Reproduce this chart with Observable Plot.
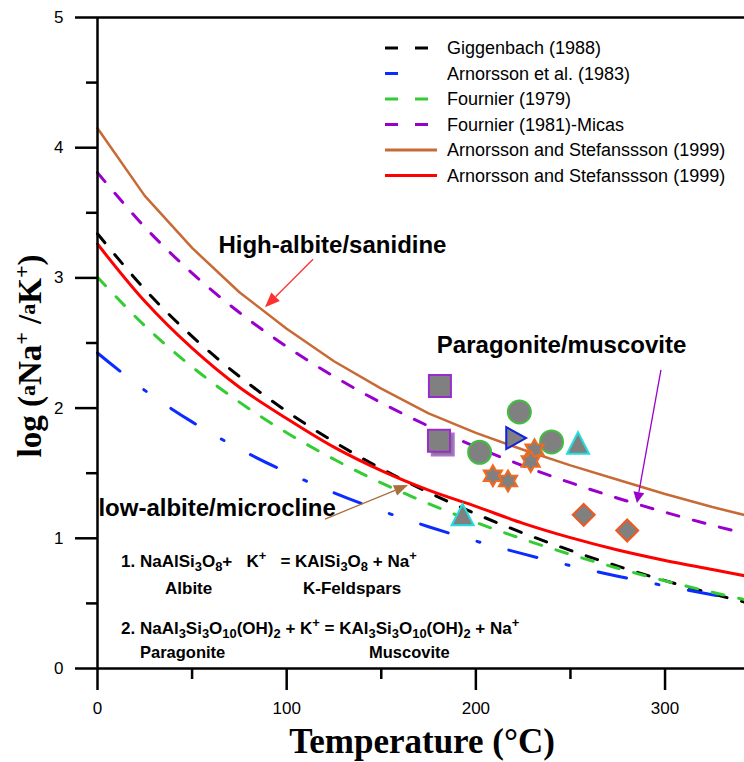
<!DOCTYPE html>
<html><head><meta charset="utf-8">
<script src="https://cdn.jsdelivr.net/npm/d3@7"></script>
<script src="https://cdn.jsdelivr.net/npm/@observablehq/plot@0.6"></script>
<style>body{margin:0;background:#fff} svg{display:block}</style>
</head><body><div id="chart"></div>
<script>
// ---- data ----
const temps = [0,25,50,75,100,125,150,175,200,225,250,275,300,325,350];
const giggenbach1988 = [3.339,2.912,2.551,2.243,1.975,1.741,1.535,1.352,1.188,1.040,0.907,0.786,0.675,0.574,0.481];
const arnorsson1983  = [2.423,2.136,1.894,1.687,1.507,1.350,1.212,1.089,0.979,0.880,0.790,0.709,0.635,0.567,0.504];
const fournier1979   = [3.005,2.632,2.316,2.046,1.811,1.607,1.426,1.266,1.122,0.993,0.876,0.770,0.673,0.585,0.503];
const fournier1981   = [3.808,3.390,3.037,2.734,2.472,2.243,2.041,1.862,1.702,1.557,1.427,1.308,1.200,1.100,1.009];
const arnorssonHigh  = [4.15,3.63,3.23,2.89,2.61,2.36,2.15,1.96,1.81,1.68,1.56,1.45,1.34,1.24,1.15];
const arnorssonLow   = [3.26,2.82,2.46,2.16,1.92,1.70,1.52,1.37,1.245,1.115,1.005,0.91,0.83,0.76,0.69];

const seriesNames = ["Giggenbach (1988)","Arnorsson et al. (1983)","Fournier (1979)","Fournier (1981)-Micas","Arnorsson and Stefanssson (1999)","Arnorsson and Stefanssson (1999)"];
const seriesValues = [giggenbach1988, arnorsson1983, fournier1979, fournier1981, arnorssonHigh, arnorssonLow];
const seriesColors = ["#000000","#0a2cff","#33cc33","#9900cc","#c86a35","#ff0000"];
const seriesDash = ["12,15","29,30,3,30","12,15","12,15",null,null];
const seriesWidth = [3,3,3,3,2.5,3];
const seriesCurve = ["catmull-rom","catmull-rom","catmull-rom","catmull-rom","linear","catmull-rom"];

// samples: [temperature, log ratio]
const squaresBack = [[182.5,1.72]];
const squares = [[181,2.17],[180.5,1.75]];
const circles = [[223,1.97],[240,1.74],[202,1.66]];
const rightTriangles = [[221,1.77]];
const triangles = [[254,1.73],[193,1.18]];
const stars = [[231,1.68],[229,1.59],[209,1.48],[217,1.44]];
const diamonds = [[257,1.18],[280,1.06]];

const xTicks = [0,100,200,300];
const xMinor = [50,150,250];
const yTicks = [0,1,2,3,4,5];
const yMinor = [0.5,1.5,2.5,3.5,4.5];

const centeredLabels = [
  {text:"High-albite/sanidine", x:124.2, y:3.254},
  {text:"Paragonite/muscovite", x:245.3, y:2.479}
];
const leftLabels = [
  {text:"low-albite/microcline", x:0.5, y:1.234}
];
const arrows = [
  {x1:114.2, y1:3.14, x2:88.8, y2:2.77, color:"#ff3030", hl:15, hw:12},
  {x1:120.5, y1:1.144, x2:164.4, y2:1.405, color:"#a8703c", hl:14, hw:11},
  {x1:298.1, y1:2.289, x2:285.4, y2:1.267, color:"#9900cc", hl:11, hw:11}
];

// ---- symbols ----
const R = s => Math.sqrt(s/Math.PI);
const symSquare = {draw(c,s){const r=R(s); c.rect(-r,-r,2*r,2*r);}};
const symTriUp = {draw(c,s){const r=R(s); c.moveTo(0,-r); c.lineTo(r,r*0.95); c.lineTo(-r,r*0.95); c.closePath();}};
const symTriRight = {draw(c,s){const r=R(s); c.moveTo(-r*0.85,-r); c.lineTo(r*0.95,0); c.lineTo(-r*0.85,r); c.closePath();}};
const symDiamond = {draw(c,s){const r=R(s); c.moveTo(0,-r); c.lineTo(r,0); c.lineTo(0,r); c.lineTo(-r,0); c.closePath();}};
const symStar6 = {draw(c,s){const r=R(s), ri=r*0.58; for(let i=0;i<12;i++){const a=-Math.PI/2+i*Math.PI/6, q=i%2?ri:r; const x=q*Math.cos(a), y=q*Math.sin(a); if(i) c.lineTo(x,y); else c.moveTo(x,y);} c.closePath();}};

const lineMarks = seriesValues.map((vals,i) => Plot.line(temps.map((t,j)=>({t, v: vals[j]})), {
  x:"t", y:"v", stroke: seriesColors[i], strokeWidth: seriesWidth[i],
  strokeDasharray: seriesDash[i] || undefined, curve: seriesCurve[i]
}));
const dots = (arr, sym, r, stroke, sw=2) => Plot.dot(arr, {x: d=>d[0], y: d=>d[1], symbol: sym, r, fill:"#808080", stroke, strokeWidth: sw});

const plot = Plot.plot({
  width: 744, height: 762,
  marginLeft: 97, marginRight: 0, marginTop: 17, marginBottom: 94,
  x: {domain: [0, 342]},
  y: {domain: [0, 5]},
  style: {fontFamily: "'Liberation Sans', Arial, sans-serif", fontSize: "17px", background: "#fff", color: "#000", overflow: "hidden"},
  marks: [
    ...lineMarks,
    dots(squaresBack, symSquare, 11, "#b070d8"),
    dots(squares, symSquare, 11, "#9a2ccc"),
    dots(circles, "circle", 11.5, "#44bb44"),
    dots(rightTriangles, symTriRight, 11, "#1020e0"),
    dots(triangles, symTriUp, 11, "#22dddd"),
    dots(stars, symStar6, 10.5, "#f26a1e"),
    dots(diamonds, symDiamond, 11, "#f0581e"),
    Plot.axisX({ticks: xTicks, tickSize: 22, tickPadding: 11, fontSize: 17, strokeWidth: 2.5, label: null, tickFormat: d => String(d)}),
    Plot.axisX({ticks: xMinor, tickSize: 11, strokeWidth: 2.5, label: null, tickFormat: () => ""}),
    Plot.axisY({ticks: yTicks, tickSize: 22, tickPadding: 12, fontSize: 17, strokeWidth: 2.5, label: null, tickFormat: d => String(d)}),
    Plot.axisY({ticks: yMinor, tickSize: 11, strokeWidth: 2.5, label: null, tickFormat: () => ""}),
    Plot.ruleX([0], {strokeWidth: 2.5}),
    Plot.ruleY([0], {strokeWidth: 2.5}),
    Plot.ruleY([5], {strokeWidth: 2.5}),
    Plot.text(centeredLabels, {x:"x", y:"y", text:"text", textAnchor: "middle", fontSize: 24, fontWeight: "bold", fill:"#000"}),
    Plot.text(leftLabels, {x:"x", y:"y", text:"text", textAnchor: "start", fontSize: 24, fontWeight: "bold", fill:"#000"})
  ]
});
document.getElementById("chart").appendChild(plot);

const svg = d3.select(plot);
const xs = plot.scale("x"), ys = plot.scale("y");

// arrows
for (const a of arrows) {
  const x1=xs.apply(a.x1), y1=ys.apply(a.y1), x2=xs.apply(a.x2), y2=ys.apply(a.y2);
  const dx=x2-x1, dy=y2-y1, L=Math.hypot(dx,dy), ux=dx/L, uy=dy/L;
  const bx=x2-ux*a.hl, by=y2-uy*a.hl;
  svg.append("line").attr("x1",x1).attr("y1",y1).attr("x2",bx).attr("y2",by).attr("stroke",a.color).attr("stroke-width",1.3);
  svg.append("polygon").attr("points",[[x2,y2],[bx-uy*a.hw/2,by+ux*a.hw/2],[bx+uy*a.hw/2,by-ux*a.hw/2]].map(p=>p.join(",")).join(" ")).attr("fill",a.color);
}

// legend
const leg = svg.append("g").attr("font-family","'Liberation Sans', Arial, sans-serif").attr("font-size",18).attr("text-anchor","start");
const legLen = [43,30,43,43,52,52];
seriesNames.forEach((name,i) => {
  const y = 48 + i*25.5;
  leg.append("line").attr("x1",385).attr("x2",385+legLen[i]).attr("y1",y).attr("y2",y)
    .attr("stroke",seriesColors[i]).attr("stroke-width",3)
    .attr("stroke-dasharray", seriesDash[i] ? "13,17" : null);
  leg.append("text").attr("x",447).attr("y",y).attr("dy","0.35em").attr("text-anchor","start").text(name);
});

// equations
function rich(x, y, parts, size) {
  const t = svg.append("text").attr("x",x).attr("y",y).attr("text-anchor","start")
    .attr("font-family","'Liberation Sans', Arial, sans-serif")
    .attr("font-weight","bold").attr("font-size",size).style("white-space","pre");
  let shift = 0;
  for (const p of parts) {
    let s = p, sh = 0, fs = size;
    if (typeof p === "object") { s = p.t; sh = p.sub ? 4 : -7; fs = size*0.76; }
    t.append("tspan").attr("dy", sh - shift).attr("font-size", fs).text(s);
    shift = sh;
  }
  return t;
}
rich(121, 567, ["1. NaAlSi",{t:"3",sub:1},"O",{t:"8",sub:1},"+   K",{t:"+"},"   = KAlSi",{t:"3",sub:1},"O",{t:"8",sub:1}," + Na",{t:"+"}], 17);
rich(165, 594, ["Albite"], 17);
rich(303, 594, ["K-Feldspars"], 17);
rich(121, 634, ["2. NaAl",{t:"3",sub:1},"Si",{t:"3",sub:1},"O",{t:"10",sub:1},"(OH)",{t:"2",sub:1}," + K",{t:"+"}," = KAl",{t:"3",sub:1},"Si",{t:"3",sub:1},"O",{t:"10",sub:1},"(OH)",{t:"2",sub:1}," + Na",{t:"+"}], 17);
rich(140, 658, ["Paragonite"], 16.5);
rich(369, 658, ["Muscovite"], 16.5);

// axis titles
svg.append("text").attr("x", 422).attr("y", 753).attr("text-anchor","middle")
  .attr("font-family","'Liberation Serif', serif").attr("font-weight","bold").attr("font-size",35)
  .text("Temperature (°C)");
const yt = svg.append("text").attr("transform","translate(41,356) rotate(-90)").attr("text-anchor","middle")
  .attr("font-family","'Liberation Serif', serif").attr("font-weight","bold").attr("font-size",33);
yt.append("tspan").text("log (");
yt.append("tspan").attr("font-size",22).attr("dy",-6).text("a");
yt.append("tspan").attr("dy",6).text("Na");
yt.append("tspan").attr("font-size",22).attr("dy",-12).text("+");
yt.append("tspan").attr("dy",12).text(" /");
yt.append("tspan").attr("font-size",22).attr("dy",-6).text("a");
yt.append("tspan").attr("dy",6).text("K");
yt.append("tspan").attr("font-size",22).attr("dy",-12).text("+");
yt.append("tspan").attr("dy",12).text(")");
</script></body></html>
